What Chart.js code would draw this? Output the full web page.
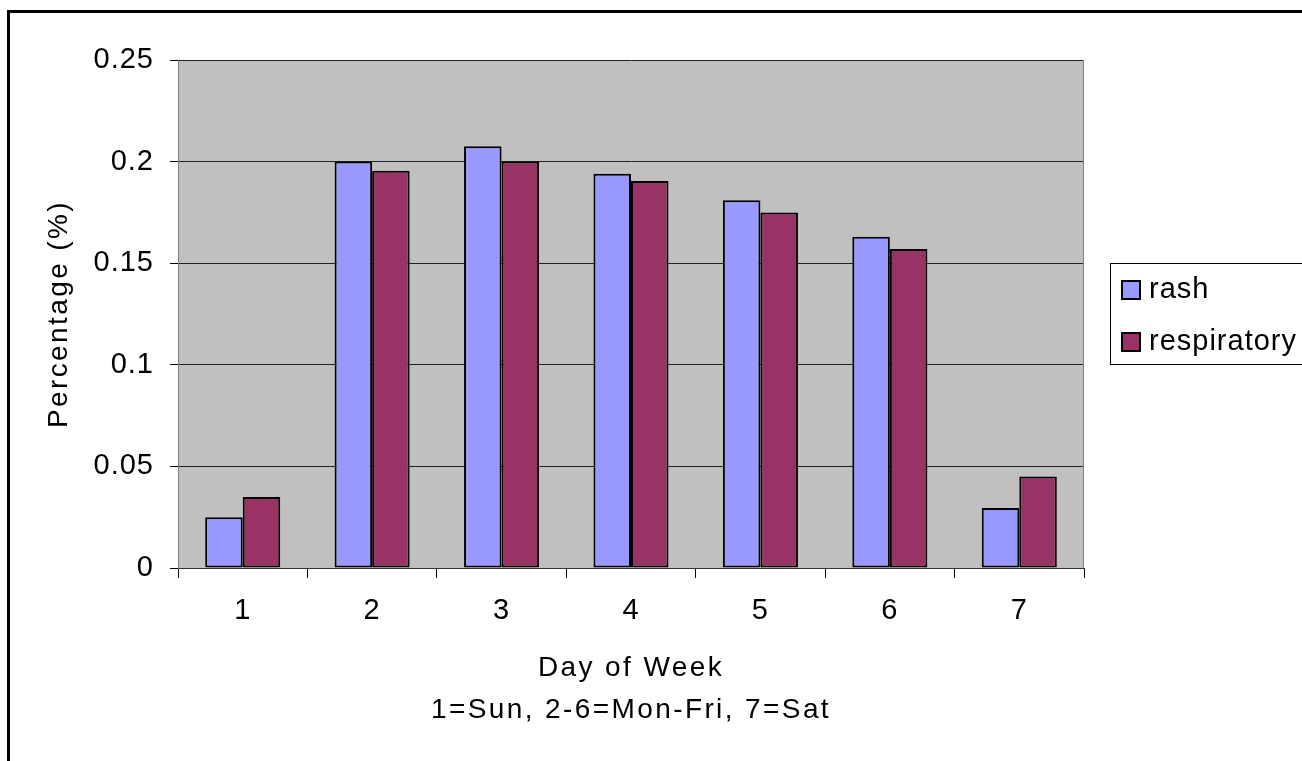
<!DOCTYPE html>
<html>
<head>
<meta charset="utf-8">
<script src="https://cdn.jsdelivr.net/npm/chart.js@4"></script>
<style>
  html, body { margin: 0; padding: 0; background: #fff; }
</style>
</head>
<body>
<canvas id="dayChart" width="1302" height="761"></canvas>
<script>
// Day of week labels and share of visits per syndrome
const days = ['1', '2', '3', '4', '5', '6', '7'];
const rash = [0.025, 0.200, 0.2075, 0.194, 0.181, 0.163, 0.0295];
const respiratory = [0.035, 0.1955, 0.200, 0.1905, 0.175, 0.157, 0.045];
const yTicks = [0, 0.05, 0.1, 0.15, 0.2, 0.25];

const FONT = "'Liberation Sans', Arial, Helvetica, sans-serif";

// wider spacing for the axis titles, like the original export
function spacedTitle(scale) {
    if (scale._spaced) return;
    const base = scale.drawTitle;
    scale.drawTitle = function () {
        this.ctx.save();
        this.ctx.letterSpacing = '2.4px';
        base.call(this);
        this.ctx.restore();
    };
    scale._spaced = true;
}

// white page, outer frame and gray plot area
const backdrop = {
    id: 'backdrop',
    beforeDraw(chart) {
        const { ctx, chartArea: a } = chart;
        ctx.save();
        ctx.fillStyle = '#fff';
        ctx.fillRect(0, 0, chart.width, chart.height);
        ctx.fillStyle = '#000';
        ctx.fillRect(7, 10, 3, chart.height);
        ctx.fillRect(7, 10, chart.width, 3);
        ctx.fillStyle = '#c0c0c0';
        ctx.fillRect(a.left, a.top, a.right - a.left, a.bottom - a.top);
        ctx.restore();
        ctx.letterSpacing = '1px';
    },
    afterDatasetsDraw(chart) {
        const { ctx, chartArea: a } = chart;
        ctx.save();
        ctx.strokeStyle = '#808080';
        ctx.lineWidth = 1;
        ctx.beginPath();
        ctx.moveTo(a.right - 0.5, a.top);
        ctx.lineTo(a.right - 0.5, a.bottom);
        ctx.stroke();
        ctx.restore();
    }
};

// boxed legend to the right of the plot
const boxLegend = {
    id: 'boxLegend',
    afterDraw(chart) {
        const { ctx, chartArea: a } = chart;
        const mid = (a.top + a.bottom) / 2;
        const left = a.right + 26;
        ctx.save();
        ctx.strokeStyle = '#000';
        ctx.lineWidth = 1;
        ctx.strokeRect(left + 0.5, mid - 50.5, 220, 101);
        ctx.font = '29px ' + FONT;
        ctx.textBaseline = 'middle';
        ctx.letterSpacing = '1px';
        chart.data.datasets.forEach((ds, i) => {
            const y = mid - 24 + i * 52;
            ctx.fillStyle = ds.backgroundColor;
            ctx.fillRect(left + 12, y - 9, 18, 18);
            ctx.lineWidth = 2;
            ctx.strokeRect(left + 12, y - 9, 18, 18);
            ctx.fillStyle = '#000';
            ctx.fillText(ds.label, left + 39, y);
        });
        ctx.restore();
    }
};

const ctx = document.getElementById('dayChart').getContext('2d');
new Chart(ctx, {
    type: 'bar',
    data: {
        labels: days,
        datasets: [{
            label: 'rash',
            data: rash,
            backgroundColor: '#9999ff',
            borderColor: '#000',
            borderWidth: 2,
            borderSkipped: false
        }, {
            label: 'respiratory',
            data: respiratory,
            backgroundColor: '#993366',
            borderColor: '#000',
            borderWidth: 2,
            borderSkipped: false
        }]
    },
    options: {
        responsive: false,
        animation: false,
        devicePixelRatio: 1,
        layout: { padding: { top: 60, right: 218, bottom: 0, left: 0 } },
        datasets: { bar: { categoryPercentage: 0.58, barPercentage: 1.0 } },
        plugins: {
            legend: { display: false },
            tooltip: { enabled: false }
        },
        scales: {
            x: {
                grid: {
                    offset: true,
                    drawOnChartArea: false,
                    tickLength: 10,
                    tickColor: '#000'
                },
                border: { color: '#333', width: 1 },
                ticks: { color: '#000', padding: 16, font: { family: FONT, size: 29 } },
                title: {
                    display: true,
                    text: ['Day of Week', '1=Sun, 2-6=Mon-Fri, 7=Sat'],
                    color: '#000',
                    font: { family: FONT, size: 28, lineHeight: 1.5 },
                    padding: { top: 0, bottom: 30 }
                },
                afterFit(scale) {
                    scale.height = 193;
                    spacedTitle(scale);
                }
            },
            y: {
                min: 0,
                max: 0.25,
                afterBuildTicks(scale) {
                    scale.ticks = yTicks.map(v => ({ value: v }));
                },
                grid: { color: '#222', tickLength: 8, tickColor: '#000' },
                border: { color: '#808080', width: 1 },
                ticks: {
                    color: '#000',
                    padding: 16,
                    font: { family: FONT, size: 29 },
                    callback: v => String(Math.round(v * 100) / 100)
                },
                title: {
                    display: true,
                    text: 'Percentage (%)',
                    color: '#000',
                    font: { family: FONT, size: 28, lineHeight: 1.2 },
                    padding: { top: 42, bottom: 0 }
                },
                afterFit(scale) {
                    scale.width = 178;
                    spacedTitle(scale);
                }
            }
        }
    },
    plugins: [backdrop, boxLegend]
});
</script>
</body>
</html>
